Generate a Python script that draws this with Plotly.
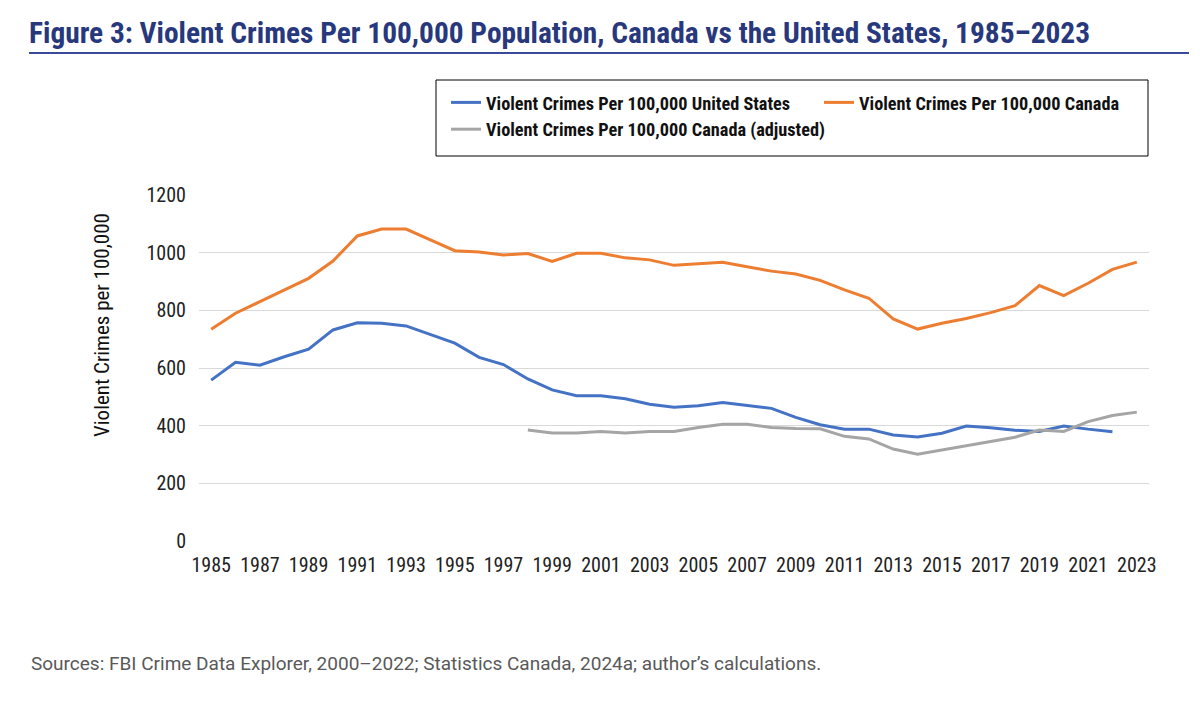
import plotly.graph_objects as go

years = list(range(1985, 2024))

us_rate = [558, 620, 610, 639, 665, 732, 757, 755, 746, 715, 686, 637, 612, 562,
           524, 504, 504, 493, 474, 464, 469, 480, 469, 460, 429, 403, 388, 388,
           368, 361, 374, 399, 393, 384, 380, 399, 388, 379, None]

canada_rate = [734, 790, 830, 871, 911, 971, 1058, 1082, 1082, 1044, 1007, 1002, 992, 997,
               970, 998, 998, 982, 975, 956, 962, 967, 951, 936, 926, 904, 871, 842,
               770, 735, 755, 772, 792, 816, 886, 851, 894, 942, 967]

canada_adj_years = list(range(1998, 2024))
canada_adj = [385, 375, 375, 380, 375, 380, 380, 394, 405, 405, 394, 390, 389,
              363, 354, 319, 301, 316, 330, 344, 360, 385, 380, 414, 435, 447]

x_ticks = list(range(1985, 2024, 2))
y_ticks = [0, 200, 400, 600, 800, 1000, 1200]

series_names = ["Violent Crimes Per 100,000 United States",
                "Violent Crimes Per 100,000 Canada",
                "Violent Crimes Per 100,000 Canada (adjusted)"]

COND = "Roboto Condensed, DejaVu Sans Condensed, Liberation Sans Narrow, Roboto, sans-serif"
NAVY = "#27387D"
LINE_NAVY = "#3A4A98"

# plot-area geometry in pixels (for paper-coordinate conversion of decorations)
PL, PR, PT, PB = 199, 1149, 195, 541
PW, PH = PR - PL, PB - PT


def px_x(x):
    return (x - PL) / PW


def px_y(y):
    return (PB - y) / PH


fig = go.Figure()
fig.add_trace(go.Scatter(x=years, y=us_rate, mode="lines", name=series_names[0],
                         line=dict(color="#4472C4", width=3), legendwidth=328))
fig.add_trace(go.Scatter(x=years, y=canada_rate, mode="lines", name=series_names[1],
                         line=dict(color="#ED7D31", width=3), legendwidth=260))
fig.add_trace(go.Scatter(x=canada_adj_years, y=canada_adj, mode="lines", name=series_names[2],
                         line=dict(color="#A5A5A5", width=3), legendwidth=328))

fig.update_layout(
    width=1200, height=716,
    margin=dict(l=PL, r=1200 - PR, t=PT, b=716 - PB),
    paper_bgcolor="white", plot_bgcolor="white",
    font=dict(family=COND, color="#222222"),
    title=dict(text="<b>Figure 3: Violent Crimes Per 100,000 Population, Canada vs the United States, 1985\u20132023</b>",
               xref="container", yref="container", x=29/1200, xanchor="left",
               y=1 - 33/716, yanchor="middle",
               font=dict(family=COND, size=29.4, color=NAVY)),
    legend=dict(orientation="h", x=px_x(446), xanchor="left", y=px_y(84), yanchor="top",
                borderwidth=0, bgcolor="rgba(0,0,0,0)",
                font=dict(family=COND, size=18.3, color="#111111", weight="bold"),
                traceorder="normal"),
    xaxis=dict(range=[1984.5, 2023.5], tickvals=x_ticks, ticktext=[str(v) for v in x_ticks],
               showgrid=False, zeroline=False, showline=False, ticks="",
               ticklabelstandoff=10,
               tickfont=dict(family=COND, size=20, color="#222222")),
    yaxis=dict(range=[0, 1200], tickvals=y_ticks, showgrid=True, gridcolor="#D9D9D9",
               gridwidth=1, zeroline=False, showline=False, ticks="",
               ticklabelstandoff=12,
               tickfont=dict(family=COND, size=20, color="#222222")),
    showlegend=True,
)

# legend frame
fig.add_shape(type="rect", xref="paper", yref="paper",
              x0=px_x(436), x1=px_x(1148), y0=px_y(156), y1=px_y(80),
              line=dict(color="#000000", width=1), fillcolor="rgba(0,0,0,0)")

fig.add_annotation(text="Violent Crimes per 100,000", xref="paper", yref="paper",
                   x=px_x(102), y=px_y(325), xanchor="center", yanchor="middle",
                   textangle=-90, showarrow=False,
                   font=dict(family=COND, size=21, color="#111111"))

fig.add_annotation(text="Sources: FBI Crime Data Explorer, 2000\u20132022; Statistics Canada, 2024a; author\u2019s calculations.",
                   xref="paper", yref="paper", x=px_x(29), y=px_y(663),
                   xanchor="left", yanchor="middle", showarrow=False,
                   font=dict(family="Roboto, sans-serif", size=19, color="#595959"))

fig.add_shape(type="line", xref="paper", yref="paper",
              x0=px_x(29), x1=px_x(1189), y0=px_y(53), y1=px_y(53),
              line=dict(color=LINE_NAVY, width=2))

fig.write_html("out.html")
